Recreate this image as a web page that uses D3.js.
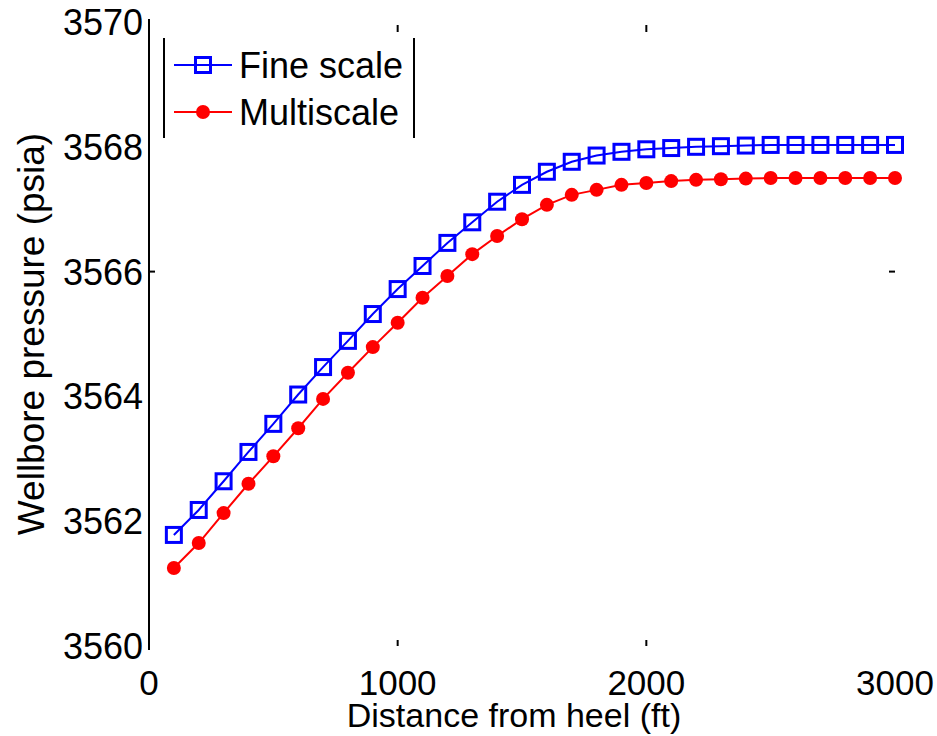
<!DOCTYPE html>
<html>
<head>
<meta charset="utf-8">
<script src="https://cdn.jsdelivr.net/npm/d3@7"></script>
<style>
  html, body { margin: 0; padding: 0; background: #fff; }
  text { font-family: "Liberation Sans", Arial, sans-serif; fill: #000; }
</style>
</head>
<body>
<svg id="chart" width="937" height="736"></svg>
<script>
const distance = [100,200,300,400,500,600,700,800,900,1000,1100,1200,1300,1400,1500,1600,1700,1800,1900,2000,2100,2200,2300,2400,2500,2600,2700,2800,2900,3000];
const fineScale = [3561.78,3562.18,3562.64,3563.11,3563.56,3564.03,3564.47,3564.89,3565.32,3565.72,3566.09,3566.46,3566.79,3567.12,3567.39,3567.60,3567.76,3567.86,3567.92,3567.96,3567.98,3568.00,3568.01,3568.02,3568.03,3568.03,3568.03,3568.03,3568.03,3568.03];
const multiscale = [3561.25,3561.65,3562.13,3562.60,3563.04,3563.49,3563.96,3564.38,3564.79,3565.18,3565.58,3565.93,3566.28,3566.57,3566.84,3567.07,3567.23,3567.31,3567.39,3567.42,3567.45,3567.47,3567.48,3567.49,3567.50,3567.50,3567.50,3567.50,3567.50,3567.50];
const xTicks = [0,1000,2000,3000];
const yTicks = [3560,3562,3564,3566,3568,3570];
const seriesNames = ["Fine scale","Multiscale"];
const seriesColors = ["#0000ff","#ff0000"];

(function(){
const svg = d3.select("#chart");
const pl = 149, pr = 895, pt = 22, pb = 646;
const x = d3.scaleLinear().domain([0,3000]).range([pl,pr]);
const y = d3.scaleLinear().domain([3560,3570]).range([pb,pt]);

// left axis line only
svg.append("line").attr("x1",pl).attr("x2",pl).attr("y1",pt-3).attr("y2",pb+4)
  .attr("stroke","#000").attr("stroke-width",2);

// y tick labels
svg.append("g").selectAll("text").data(yTicks).join("text")
  .attr("x", pl-6).attr("y", d=>y(d)).attr("dy","0.36em")
  .attr("text-anchor","end").attr("font-size",36).text(d=>d);
// x tick labels
svg.append("g").selectAll("text").data(xTicks).join("text")
  .attr("x", d=>x(d)).attr("y", 695)
  .attr("text-anchor","middle").attr("font-size",35).text(d=>d);

// sparse tick remnants
[1000,2000].forEach(v=>{
  svg.append("line").attr("x1",x(v)).attr("x2",x(v)).attr("y1",pb).attr("y2",pb-6).attr("stroke","#000").attr("stroke-width",2);
  svg.append("line").attr("x1",x(v)).attr("x2",x(v)).attr("y1",pt+3).attr("y2",pt+10).attr("stroke","#000").attr("stroke-width",2);
});
svg.append("line").attr("x1",pl).attr("x2",pl+6).attr("y1",y(3566)).attr("y2",y(3566)).attr("stroke","#000").attr("stroke-width",2);
svg.append("line").attr("x1",pr-6).attr("x2",pr).attr("y1",y(3566)).attr("y2",y(3566)).attr("stroke","#000").attr("stroke-width",2);

// axis titles
svg.append("text").attr("x", 514).attr("y", 727)
  .attr("text-anchor","middle").attr("font-size",34).text("Distance from heel (ft)");
svg.append("text").attr("transform",`translate(44,${(pt+pb)/2}) rotate(-90)`)
  .attr("text-anchor","middle").attr("font-size",37).text("Wellbore pressure (psia)");

const line = d3.line().x((d,i)=>x(distance[i])).y(d=>y(d));

// Fine scale
svg.append("path").datum(fineScale).attr("d",line).attr("fill","none")
  .attr("stroke",seriesColors[0]).attr("stroke-width",2);
svg.append("g").selectAll("rect").data(fineScale).join("rect")
  .attr("x",(d,i)=>x(distance[i])-7.5).attr("y",d=>y(d)-7.5)
  .attr("width",15).attr("height",15).attr("fill","none")
  .attr("stroke",seriesColors[0]).attr("stroke-width",3);

// Multiscale
svg.append("path").datum(multiscale).attr("d",line).attr("fill","none")
  .attr("stroke",seriesColors[1]).attr("stroke-width",2);
svg.append("g").selectAll("circle").data(multiscale).join("circle")
  .attr("cx",(d,i)=>x(distance[i])).attr("cy",d=>y(d)).attr("r",7)
  .attr("fill",seriesColors[1]);

// legend
const lg = svg.append("g");
lg.append("line").attr("x1",164).attr("x2",164).attr("y1",38).attr("y2",138).attr("stroke","#000").attr("stroke-width",2);
lg.append("line").attr("x1",414).attr("x2",414).attr("y1",38).attr("y2",138).attr("stroke","#000").attr("stroke-width",2);
const rowsY = [65,112];
seriesNames.forEach((name,i)=>{
  lg.append("line").attr("x1",174).attr("x2",232).attr("y1",rowsY[i]).attr("y2",rowsY[i])
    .attr("stroke",seriesColors[i]).attr("stroke-width",2);
  if(i===0){
    lg.append("rect").attr("x",195.5).attr("y",rowsY[i]-7.5).attr("width",15).attr("height",15)
      .attr("fill","none").attr("stroke",seriesColors[i]).attr("stroke-width",3);
  } else {
    lg.append("circle").attr("cx",203).attr("cy",rowsY[i]).attr("r",7).attr("fill",seriesColors[i]);
  }
  lg.append("text").attr("x",239).attr("y",rowsY[i]).attr("dy","0.36em").attr("font-size",36).text(name);
});
})();
</script>
</body>
</html>
